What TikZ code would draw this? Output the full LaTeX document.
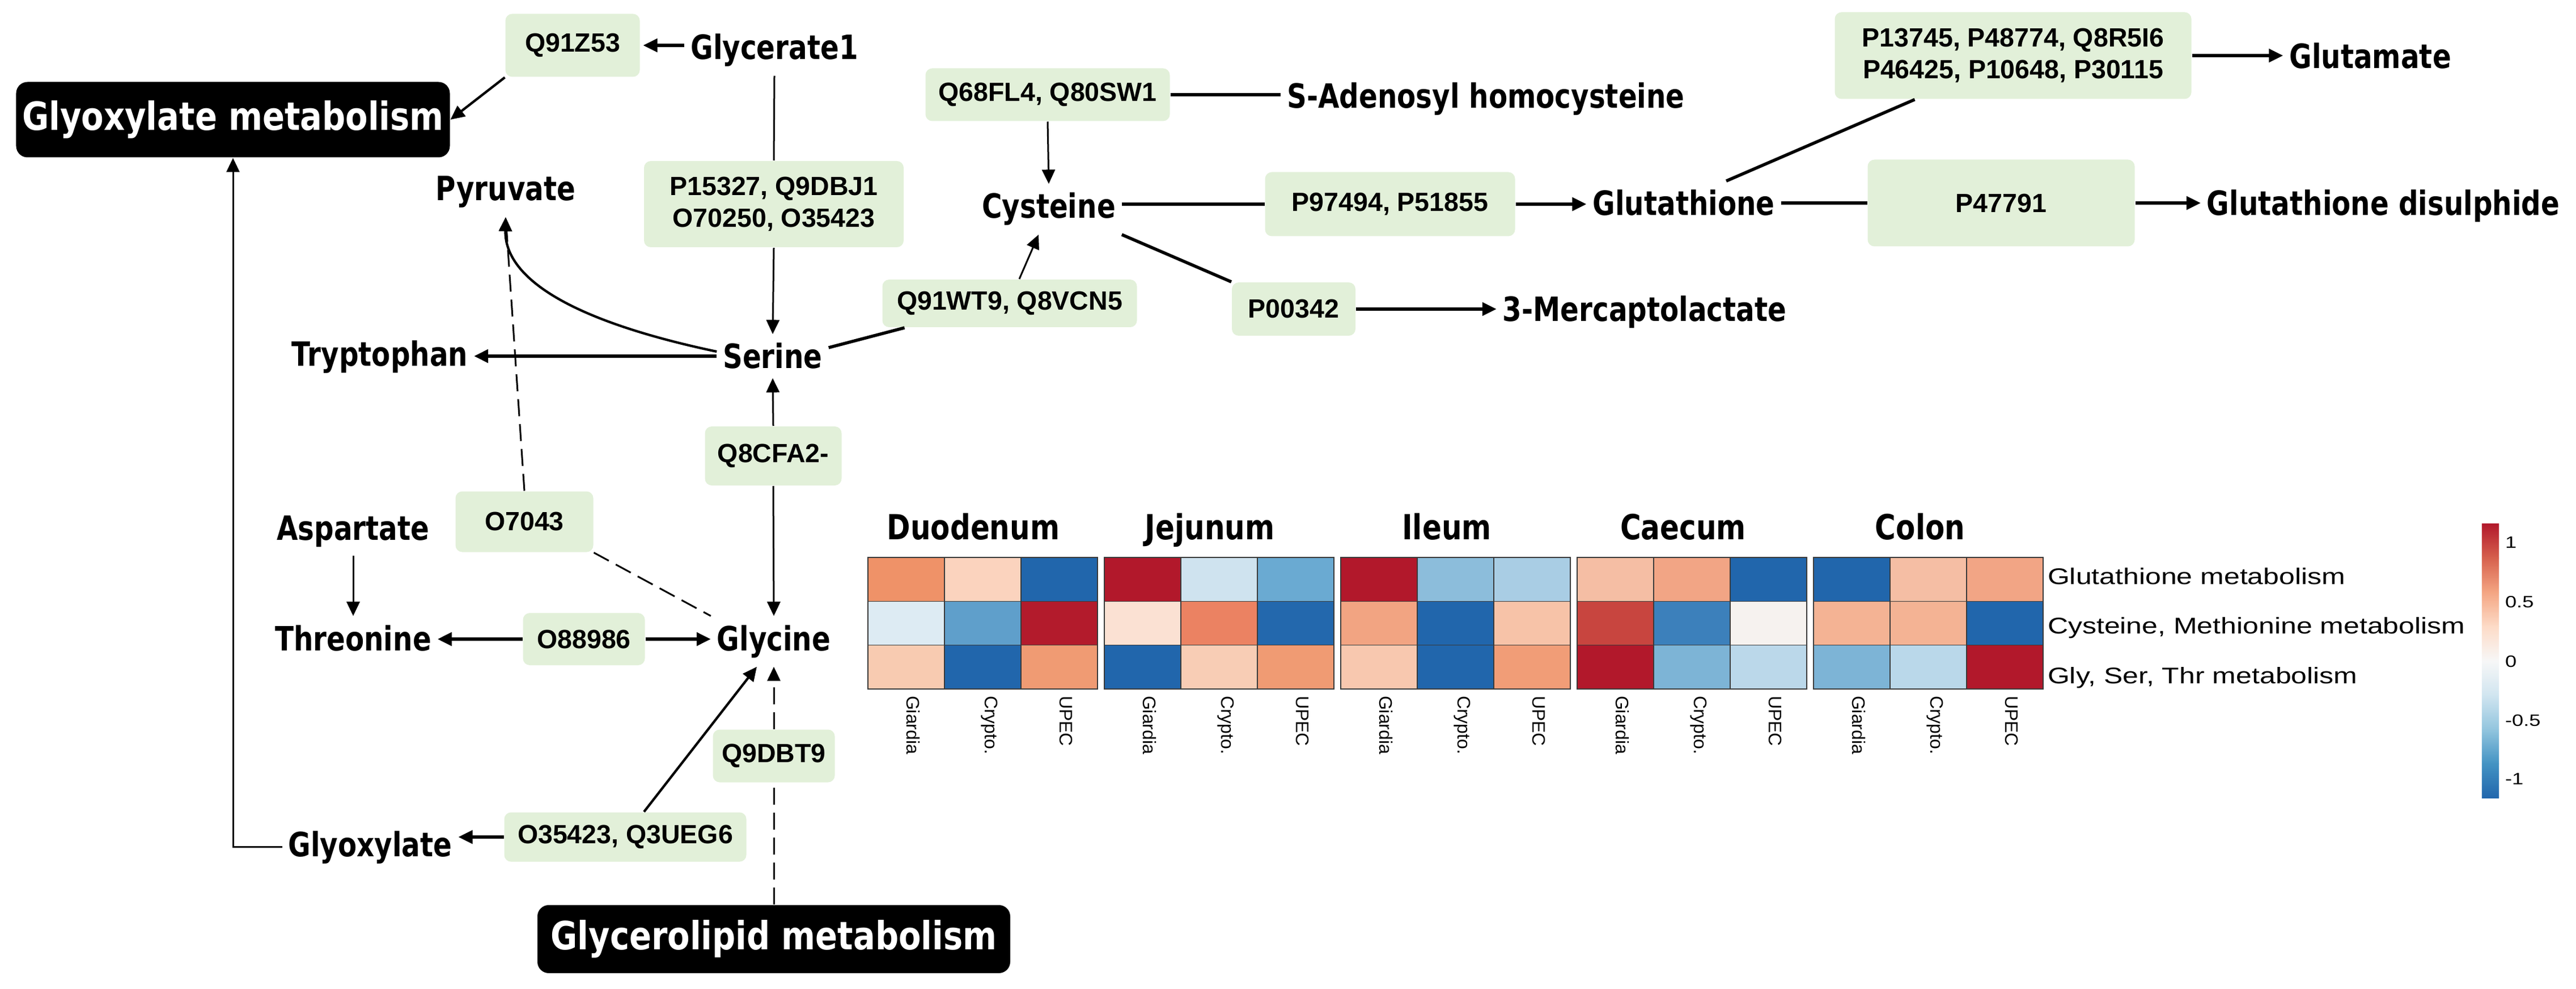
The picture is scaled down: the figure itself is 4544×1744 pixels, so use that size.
\documentclass[tikz,border=0pt]{standalone}
\usepackage{fontspec}
\usetikzlibrary{arrows.meta}
\newfontfamily\vfont[FakeStretch=0.82]{DejaVu Sans}
\newfontfamily\pwfont[FakeStretch=0.84]{DejaVu Sans}
\newfontfamily\pfont{Liberation Sans}
\newfontfamily\afont[FakeStretch=1.25]{Liberation Sans}
\newfontfamily\cfont{Liberation Sans}
\definecolor{boxgreen}{HTML}{E2F0D9}
\definecolor{gridgray}{HTML}{3A3A3A}
\begin{document}
\begin{tikzpicture}[x=0.2pt,y=-0.2pt,
  met/.style={font=\vfont\bfseries\fontsize{11.8pt}{14pt}\selectfont, inner xsep=2pt, inner ysep=3pt, anchor=base},
  prot/.style={fill=boxgreen, rounded corners=2.4pt, font=\pfont\bfseries\fontsize{9.3pt}{11.3pt}\selectfont, align=center, inner sep=0pt},
  pwbox/.style={fill=black, text=white, rounded corners=4pt, font=\pwfont\bfseries\fontsize{13.7pt}{16pt}\selectfont, inner sep=0pt},
  hdr/.style={font=\vfont\bfseries\fontsize{12.2pt}{14pt}\selectfont, anchor=base, inner sep=0pt},
  rowlab/.style={font=\afont\fontsize{8pt}{9pt}\selectfont, anchor=base west, inner sep=0pt},
  collab/.style={font=\cfont\fontsize{6.4pt}{7pt}\selectfont, rotate=-90, anchor=west, inner sep=0pt},
  tick/.style={font=\afont\fontsize{5.8pt}{7pt}\selectfont, anchor=west, inner sep=0pt},
  thk/.style={line width=1.1pt},
  med/.style={line width=0.85pt},
  thn/.style={line width=0.6pt},
  arr/.style={-{Triangle[length=5pt,width=4.6pt]}},
  dsh/.style={dash pattern=on 6pt off 2.8pt},
]
\useasboundingbox (0,0) rectangle (4544,1744);
\fill[white] (0,0) rectangle (4544,1744);

% ---------- pathway boxes ----------
\node[pwbox, minimum width=153pt, minimum height=26.6pt] (glyoxmet) at (411,211) {Glyoxylate metabolism};
\node[pwbox, minimum width=166.8pt, minimum height=24pt] (glycmet) at (1365,1656) {Glycerolipid metabolism};

% ---------- protein boxes ----------
\node[prot, minimum width=47.4pt, minimum height=22.2pt] (q91z53) at (1010,80) {Q91Z53};
\node[prot, minimum width=91.6pt, minimum height=30.4pt] (p15327) at (1365,360) {P15327, Q9DBJ1\\O70250, O35423};
\node[prot, minimum width=86.2pt, minimum height=18.6pt] (q68fl4) at (1848,167) {Q68FL4, Q80SW1};
\node[prot, minimum width=89.8pt, minimum height=16.8pt] (q91wt9) at (1781,535) {Q91WT9, Q8VCN5};
\node[prot, minimum width=88.2pt, minimum height=22.6pt] (p97494) at (2452,360) {P97494, P51855};
\node[prot, minimum width=43.6pt, minimum height=18.8pt] (p00342) at (2282,545) {P00342};
\node[prot, minimum width=125.8pt, minimum height=30.6pt] (p13745) at (3551,98) {P13745, P48774, Q8R5I6\\P46425, P10648, P30115};
\node[prot, minimum width=94.2pt, minimum height=30.6pt] (p47791) at (3530,358) {P47791};
\node[prot, minimum width=48.2pt, minimum height=20.8pt] (q8cfa2) at (1364,804) {Q8CFA2-};
\node[prot, minimum width=48.6pt, minimum height=21.4pt] (o7043) at (925,920) {O7043};
\node[prot, minimum width=43pt, minimum height=18.4pt] (o88986) at (1030,1127) {O88986};
\node[prot, minimum width=43pt, minimum height=18.6pt] (q9dbt9) at (1365,1333) {Q9DBT9};
\node[prot, minimum width=85.4pt, minimum height=17.4pt] (o35423) at (1103,1476) {O35423, Q3UEG6};

% ---------- metabolites ----------
\node[met] (glycerate) at (1366,105) {Glycerate1};
\node[met] (pyruvate) at (892,354) {Pyruvate};
\node[met] (serine) at (1363,650) {Serine};
\node[met] (tryptophan) at (670,646) {Tryptophan};
\node[met] (cysteine) at (1850,385) {Cysteine};
\node[met] (sadeno) at (2621,191) {S-Adenosyl homocysteine};
\node[met] (glutathione) at (2970,380) {Glutathione};
\node[met] (mercapto) at (2901,567) {3-Mercaptolactate};
\node[met] (glutamate) at (4181,121) {Glutamate};
\node[met] (gdisulph) at (4204,380) {Glutathione disulphide};
\node[met] (aspartate) at (623,952) {Aspartate};
\node[met] (threonine) at (623,1147) {Threonine};
\node[met] (glycine) at (1365,1147) {Glycine};
\node[met] (glyoxylate) at (653,1510) {Glyoxylate};

% ---------- connectors ----------
\draw[thk,arr,shorten >=1pt] (glycerate.west |- q91z53.east) -- (q91z53.east);
\draw[med,arr] (q91z53.south west) -- (glyoxmet.east);
\draw[thn] (glycerate.south) -- (p15327.north);
\draw[thn,arr] (p15327.south) -- (serine.north);
\draw[thn,arr] (q8cfa2.north) -- (serine.south);
\draw[thn,arr] (q8cfa2.south) -- (glycine.north);
\draw[thk,arr] (serine.west) -- (tryptophan.east |- serine.west);
\draw[med,arr] ([yshift=1.6pt]serine.west) .. controls (980,560) and (890,480) .. (pyruvate.south);
\draw[thn,dsh] (o7043.north) -- (pyruvate.south);
\draw[thn,dsh] (o7043.south east) -- (glycine.north west);
\draw[thn,arr] (aspartate.south) -- (threonine.north);
\draw[thk,arr] (o88986.west) -- (threonine.east |- o88986.west);
\draw[thk,arr] (o88986.east) -- (glycine.west |- o88986.east);
\draw[thn,dsh] (glycmet.north) -- (q9dbt9.south);
\draw[thn,dsh,arr] (q9dbt9.north) -- (glycine.south);
\draw[thk,arr] (o35423.west) -- (glyoxylate.east |- o35423.west);
\draw[med,arr] ([xshift=6.6pt]o35423.north) -- ([xshift=-6pt]glycine.south);
\draw[thn,arr] (glyoxylate.west) -| (glyoxmet.south);
\draw[thk] (q68fl4.east) -- (sadeno.west |- q68fl4.east);
\draw[thn,arr] (q68fl4.south) -- (cysteine.north);
\draw[thn,arr] ([xshift=3.4pt]q91wt9.north) -- ([xshift=-3.6pt]cysteine.south);
\draw[thk] ([yshift=3pt]serine.east) -- ([xshift=8pt]q91wt9.south west);
\draw[thk] (cysteine.east |- p97494.west) -- (p97494.west);
\draw[thk,arr] (p97494.east) -- (glutathione.west |- p97494.east);
\draw[thk] (cysteine.south east) -- (p00342.north west);
\draw[thk,arr] (p00342.east) -- (mercapto.west |- p00342.east);
\draw[thk] ([xshift=15pt]glutathione.north) -- ([xshift=28.4pt]p13745.south west);
\draw[thk,arr] (p13745.east) -- (glutamate.west |- p13745.east);
\draw[thk] (glutathione.east) -- (p47791.west |- glutathione.east);
\draw[thk,arr] (p47791.east) -- (gdisulph.west |- p47791.east);

% ---------- heatmap ----------
\foreach \rw [count=\r from 0] in {
  {EF9268,FBD3BE,2166AC,B2182B,CFE3EF,6AAAD2,B2182B,8CBDDB,A9CDE4,F5BEA4,F2A585,2166AC,2166AC,F5BEA4,F2A585},
  {DDEBF3,5F9FCB,B31B2C,FBE1D3,EB8262,2368AD,F2A482,2166AC,F7C3A8,C8453F,3C80BB,F6F2EF,F4B394,F4B394,2166AC},
  {F8CBB1,2166AC,F09B73,2166AC,F8CDB5,F09B73,F8C8AF,2166AC,F19D77,B2182B,7DB4D6,BBD8EA,7DB4D6,BAD8EA,B2182B}} {
  \foreach \cc [count=\k from 0] in \rw {
    \pgfmathsetmacro\xa{1531+417*floor(\k/3)+135*mod(\k,3)}
    \pgfmathsetmacro\ya{983+77.33*\r}
    \definecolor{cellc}{HTML}{\cc}
    \fill[cellc] (\xa,\ya) rectangle ++(135,77.33);
  }
}
\foreach \b in {0,...,4} {
  \pgfmathsetmacro\xb{1531+417*\b}
  \draw[gridgray, line width=0.3pt] (\xb,983) rectangle ++(405,232);
  \draw[gridgray, line width=0.3pt] ({\xb+135},983) -- ++(0,232) ({\xb+270},983) -- ++(0,232)
     (\xb,1060.33) -- ++(405,0) (\xb,1137.67) -- ++(405,0);
  \foreach \lab [count=\j from 0] in {Giardia,Crypto.,UPEC} {
    \node[collab] (cl-\b-\j) at ({\xb+67.5+135*\j+12},1226) {\lab};
  }
}
\node[hdr] (hd1) at (1717,951) {Duodenum};
\node[hdr] (hd2) at (2134,951) {Jejunum};
\node[hdr] (hd3) at (2552,951) {Ileum};
\node[hdr] (hd4) at (2969,951) {Caecum};
\node[hdr] (hd5) at (3387,951) {Colon};
\node[rowlab] (rl1) at (3611,1030) {Glutathione metabolism};
\node[rowlab] (rl2) at (3611,1117) {Cysteine, Methionine metabolism};
\node[rowlab] (rl3) at (3611,1205) {Gly, Ser, Thr metabolism};

% ---------- colour bar ----------
\foreach \ca/\cb [count=\i from 0] in {B2182B/D6604D,D6604D/F4A582,F4A582/FDDBC7,FDDBC7/F7F7F7,F7F7F7/D1E5F0,D1E5F0/92C5DE,92C5DE/4393C3,4393C3/2166AC} {
  \definecolor{ta}{HTML}{\ca}\definecolor{tb}{HTML}{\cb}
  \shade[top color=ta,bottom color=tb] (4378,{923+60.5*\i}) rectangle (4408,{923+60.5*(\i+1)+0.5});
}
\node[tick] (t1) at (4418,957) {1};
\node[tick] (t2) at (4418,1062) {0.5};
\node[tick] (t3) at (4418,1167) {0};
\node[tick] (t4) at (4418,1271) {-0.5};
\node[tick] (t5) at (4418,1374) {-1};
\end{tikzpicture}
\end{document}
